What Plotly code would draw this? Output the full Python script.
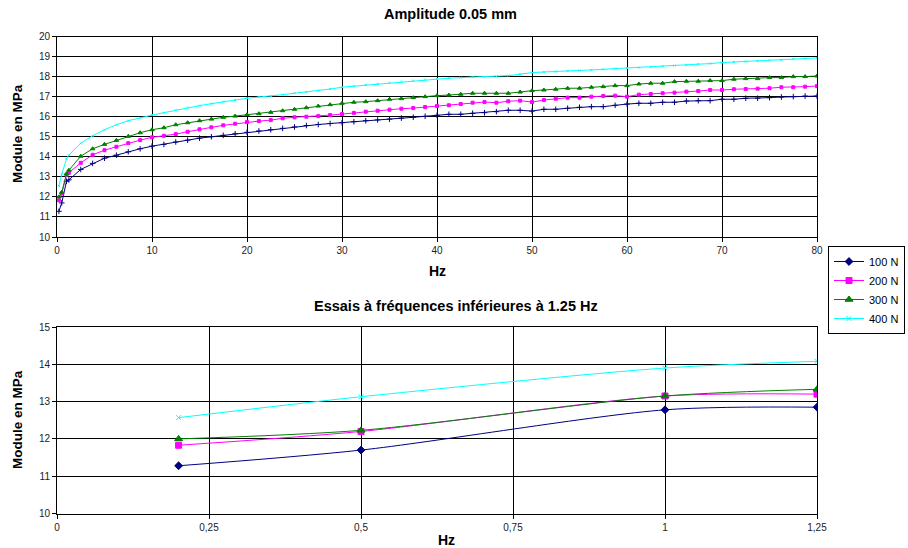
import plotly.graph_objects as go

# ---------------- data ----------------
series_names = ["100 N", "200 N", "300 N", "400 N"]
series_colors = ["#000080", "#FF00FF", "#008000", "#00FFFF"]

freq_top = [0.2, 0.5, 1.0, 1.25, 2.5, 3.75, 5.0, 6.25, 7.5, 8.75, 10.0, 11.25, 12.5, 13.75,
            15.0, 16.25, 17.5, 18.75, 20.0, 21.25, 22.5, 23.75, 25.0, 26.25, 27.5, 28.75,
            30.0, 31.25, 32.5, 33.75, 35.0, 36.25, 37.5, 38.75, 40.0, 41.25, 42.5, 43.75,
            45.0, 46.25, 47.5, 48.75, 50.0, 51.25, 52.5, 53.75, 55.0, 56.25, 57.5, 58.75,
            60.0, 61.25, 62.5, 63.75, 65.0, 66.25, 67.5, 68.75, 70.0, 71.25, 72.5, 73.75,
            75.0, 76.25, 77.5, 78.75, 80.0]

mod_100 = [11.28, 11.70, 12.78, 12.85, 13.37, 13.67, 13.93, 14.08, 14.25, 14.40, 14.53, 14.62,
           14.74, 14.83, 14.93, 15.00, 15.07, 15.15, 15.22, 15.29, 15.35, 15.42, 15.49, 15.56,
           15.61, 15.66, 15.70, 15.75, 15.80, 15.84, 15.88, 15.93, 15.97, 16.02, 16.07, 16.12,
           16.12, 16.17, 16.20, 16.25, 16.32, 16.32, 16.28, 16.37, 16.37, 16.42, 16.47, 16.50,
           16.50, 16.57, 16.63, 16.67, 16.67, 16.72, 16.72, 16.78, 16.80, 16.80, 16.87, 16.87,
           16.92, 16.92, 16.95, 16.98, 17.00, 17.03, 17.03]

mod_200 = [11.83, 12.17, 13.10, 13.20, 13.70, 14.10, 14.33, 14.50, 14.68, 14.83, 14.97, 15.05,
           15.13, 15.25, 15.37, 15.47, 15.57, 15.65, 15.73, 15.78, 15.83, 15.92, 15.97, 16.00,
           16.03, 16.08, 16.13, 16.19, 16.25, 16.30, 16.35, 16.40, 16.43, 16.48, 16.53, 16.57,
           16.63, 16.70, 16.73, 16.70, 16.77, 16.80, 16.73, 16.83, 16.90, 16.95, 16.95, 17.00,
           17.03, 17.05, 17.00, 17.10, 17.13, 17.17, 17.20, 17.25, 17.28, 17.33, 17.33, 17.37,
           17.38, 17.40, 17.42, 17.47, 17.47, 17.50, 17.53]

mod_300 = [12.00, 12.23, 13.15, 13.33, 14.03, 14.40, 14.62, 14.82, 15.02, 15.20, 15.35, 15.45,
           15.60, 15.70, 15.80, 15.88, 15.97, 16.03, 16.10, 16.15, 16.22, 16.30, 16.37, 16.45,
           16.53, 16.60, 16.67, 16.72, 16.75, 16.80, 16.87, 16.90, 16.95, 17.00, 17.05, 17.08,
           17.12, 17.17, 17.17, 17.17, 17.17, 17.23, 17.30, 17.33, 17.37, 17.42, 17.42, 17.47,
           17.50, 17.55, 17.55, 17.63, 17.67, 17.67, 17.75, 17.77, 17.77, 17.80, 17.80, 17.87,
           17.90, 17.90, 17.95, 17.95, 18.00, 18.00, 18.03]

mod_400 = [12.55, 13.13, 13.90, 14.08, 14.67, 15.05, 15.35, 15.60, 15.80, 15.95, 16.08, 16.20,
           16.32, 16.45, 16.55, 16.65, 16.75, 16.83, 16.92, 16.98, 17.03, 17.10, 17.17, 17.23,
           17.30, 17.38, 17.47, 17.52, 17.58, 17.63, 17.70, 17.75, 17.80, 17.85, 17.88, 17.92,
           17.95, 17.97, 17.98, 18.00, 18.05, 18.12, 18.20, 18.23, 18.25, 18.28, 18.30, 18.33,
           18.36, 18.40, 18.43, 18.45, 18.48, 18.52, 18.55, 18.58, 18.62, 18.65, 18.70, 18.73,
           18.75, 18.78, 18.80, 18.83, 18.87, 18.90, 18.93]

freq_low = [0.2, 0.5, 1.0, 1.25]
low_100 = [11.28, 11.70, 12.78, 12.85]
low_200 = [11.83, 12.20, 13.15, 13.20]
low_300 = [12.00, 12.23, 13.15, 13.33]
low_400 = [12.57, 13.13, 13.90, 14.08]

top_series = [mod_100, mod_200, mod_300, mod_400]
low_series = [low_100, low_200, low_300, low_400]

title_top = "Amplitude 0.05 mm"
title_low = "Essais à fréquences inférieures à 1.25 Hz"
y_title = "Module en MPa"
x_title = "Hz"

# ---------------- styles ----------------
FONT = "Liberation Sans, Arial, sans-serif"
top_symbols = ["cross-thin", "square", "triangle-up", "x-thin"]
top_sizes = [4, 3, 4, 2]
low_symbols = ["diamond", "square", "triangle-up", "x-thin"]
low_sizes = [6, 6, 7, 5]

fig = go.Figure()

for name, color, vals, sym, sz in zip(series_names, series_colors, top_series, top_symbols, top_sizes):
    fig.add_trace(go.Scatter(
        x=freq_top, y=vals, mode="lines+markers", name=name, showlegend=False,
        line=dict(color=color, width=1),
        marker=dict(symbol=sym, size=sz, color=color, line=dict(color=color, width=1)),
        xaxis="x", yaxis="y"))

for name, color, vals, sym, sz in zip(series_names, series_colors, low_series, low_symbols, low_sizes):
    fig.add_trace(go.Scatter(
        x=freq_low, y=vals, mode="lines+markers", name=name, showlegend=True,
        line=dict(color=color, width=1, shape="spline", smoothing=0.8),
        marker=dict(symbol=sym, size=sz, color=color, line=dict(color=color, width=1)),
        xaxis="x2", yaxis="y2"))

axis_common = dict(
    showgrid=True, gridcolor="#000000", gridwidth=1,
    showline=True, linecolor="#000000", linewidth=1, mirror=True,
    ticks="outside", ticklen=4, tickcolor="#000000",
    tickfont=dict(family=FONT, size=10, color="#222222"),
    zeroline=False, fixedrange=True, automargin=False,
)

X0, X1 = 57 / 908, 817 / 908
fig.update_layout(
    width=908, height=548,
    margin=dict(l=0, r=0, t=0, b=0, autoexpand=False),
    paper_bgcolor="white", plot_bgcolor="white",
    separators=", ",
    font=dict(family=FONT, size=11, color="#000000"),
    xaxis=dict(domain=[X0, X1], range=[0, 80], dtick=10, anchor="y", **axis_common),
    yaxis=dict(domain=[(548 - 237) / 548, (548 - 36.5) / 548], range=[10, 20], dtick=1,
               anchor="x", **axis_common),
    xaxis2=dict(domain=[X0, X1], range=[0, 1.25], dtick=0.25, anchor="y2", **axis_common),
    yaxis2=dict(domain=[(548 - 513.5) / 548, (548 - 327) / 548], range=[10, 15], dtick=1,
                anchor="x2", **axis_common),
    legend=dict(x=828 / 908, y=(548 - 246) / 548, xanchor="left", yanchor="top",
                bordercolor="#000000", borderwidth=1, bgcolor="white",
                font=dict(family=FONT, size=11, color="#000000"),
                itemwidth=30, tracegroupgap=0),
    showlegend=True,
)

def ann(text, x, y, size=12, angle=0):
    fig.add_annotation(text=f"<b>{text}</b>", x=x / 908, y=1 - y / 548, xref="paper", yref="paper",
                       showarrow=False, textangle=angle,
                       font=dict(family=FONT, size=size, color="#000000"),
                       xanchor="center", yanchor="middle")

ann(title_top, 450, 14, size=14.5)
ann(title_low, 456, 306, size=14.5)
ann(x_title, 437, 271, size=14)
ann(x_title, 446, 540, size=14)
ann(y_title, 17, 134, size=13.5, angle=-90)
ann(y_title, 17, 420, size=13.5, angle=-90)

fig.write_html("out.html", config={"displayModeBar": False},
               post_script="document.body.style.margin='0px';document.body.style.overflow='hidden';")
